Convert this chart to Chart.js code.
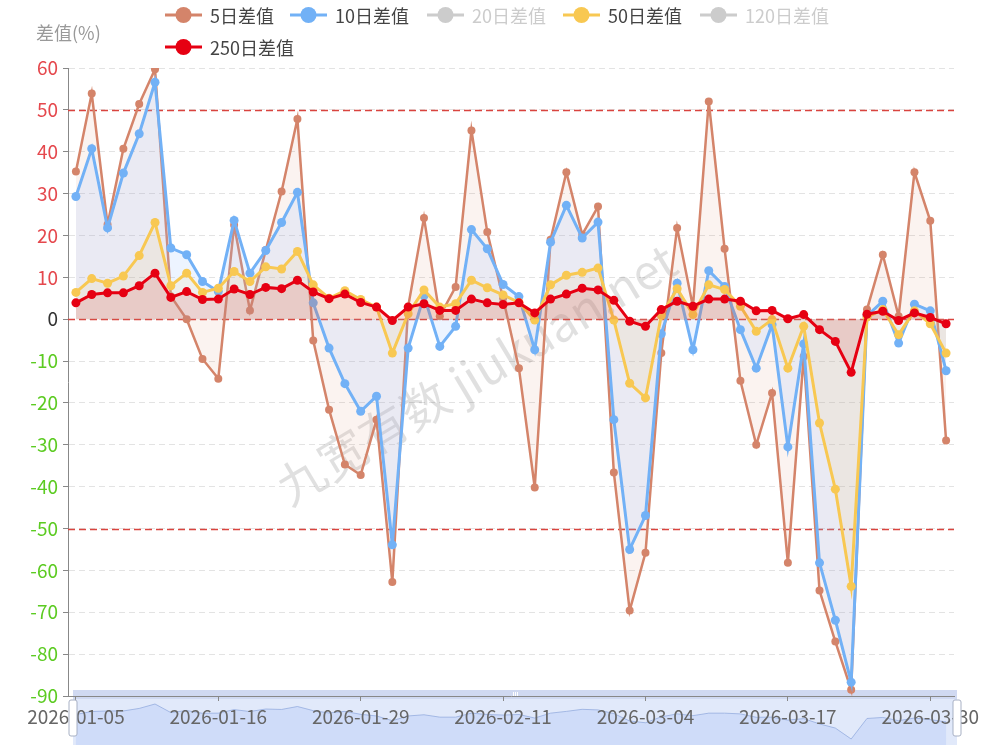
<!DOCTYPE html>
<html>
<head>
<meta charset="utf-8">
<script src="https://cdn.jsdelivr.net/npm/chart.js@4.4.1/dist/chart.umd.min.js"></script>
<style>
html,body{margin:0;padding:0;background:#fff;}
#wrap{width:993px;height:750px;position:relative;}
</style>
</head>
<body>
<div id="wrap"><canvas id="c"></canvas></div>
<script>
// ---------- data ----------
const categories = ['2026-01-05','2026-01-06','2026-01-07','2026-01-08','2026-01-09','2026-01-12','2026-01-13','2026-01-14','2026-01-15','2026-01-16',
 '2026-01-19','2026-01-20','2026-01-21','2026-01-22','2026-01-23','2026-01-26','2026-01-27','2026-01-28','2026-01-29','2026-01-30',
 '2026-02-02','2026-02-03','2026-02-04','2026-02-05','2026-02-06','2026-02-09','2026-02-10','2026-02-11','2026-02-12','2026-02-13',
 '2026-02-24','2026-02-25','2026-02-26','2026-02-27','2026-03-02','2026-03-03','2026-03-04','2026-03-05','2026-03-06','2026-03-09',
 '2026-03-10','2026-03-11','2026-03-12','2026-03-13','2026-03-16','2026-03-17','2026-03-18','2026-03-19','2026-03-20','2026-03-23',
 '2026-03-24','2026-03-25','2026-03-26','2026-03-27','2026-03-30','2026-03-31'];

const diff5 = [35.3, 53.9, 22.6, 40.7, 51.4, 59.7, 5.5, 0, -9.5, -14.2,
 22.5, 2.1, 16.5, 30.5, 47.8, -5.1, -21.6, -34.7, -37.2, -24,
 -62.8, 3, 24.2, 0.7, 7.7, 45.1, 20.8, 5, -11.7, -40.2,
 19, 35.1, 20.2, 26.9, -36.6, -69.6, -55.8, -8.1, 21.8, 3,
 52, 16.8, -14.7, -30, -17.6, -58.2, -8.9, -64.8, -77, -88.5,
 2.3, 15.4, 0.7, 35.1, 23.5, -29];

const diff10 = [29.3, 40.7, 21.8, 34.9, 44.3, 56.6, 17, 15.4, 9, 6.6,
 23.6, 11, 16.4, 23.1, 30.3, 3.9, -6.9, -15.4, -22, -18.4,
 -53.9, -6.9, 5.6, -6.5, -1.7, 21.4, 16.8, 8.3, 5.4, -7.3,
 18.4, 27.2, 19.4, 23.2, -24, -55, -46.9, -3.5, 8.6, -7.3,
 11.6, 7.8, -2.5, -11.7, -1.3, -30.5, -5.9, -58.2, -71.9, -86.7,
 0.8, 4.3, -5.7, 3.6, 2, -12.3];

const diff20 = [];   // hidden in the reference
const diff120 = [];  // hidden in the reference

const diff50 = [6.4, 9.7, 8.6, 10.3, 15.2, 23.1, 8, 11, 6.4, 7.4,
 11.4, 9, 12.5, 12, 16.2, 8.2, 5, 6.8, 4.7, 2.9,
 -8.1, 1.3, 7, 2.9, 3.7, 9.3, 7.5, 5.8, 4, -0.2,
 8.2, 10.5, 11.2, 12.2, -0.2, -15.3, -18.8, 0.9, 7.3, 1.1,
 8.2, 7.1, 3.1, -2.9, -0.1, -11.7, -1.7, -24.8, -40.6, -63.8,
 0.5, 2.3, -3.7, 2, -1.1, -8.1];

const diff250 = [3.9, 5.9, 6.3, 6.3, 8, 11, 5.2, 6.6, 4.7, 4.8,
 7.2, 5.9, 7.6, 7.3, 9.3, 6.5, 4.9, 6, 4, 2.9,
 -0.3, 2.9, 3.7, 2.1, 2.1, 4.8, 3.9, 3.5, 3.9, 1.5,
 4.8, 6, 7.4, 7, 4.5, -0.5, -1.7, 2.3, 4.3, 3.1,
 4.8, 4.8, 4.3, 2, 2.1, 0.1, 1.1, -2.5, -5.3, -12.7,
 1.2, 1.9, -0.3, 1.5, 0.4, -1.1];

const seriesNames = ['5日差值','10日差值','20日差值','50日差值','120日差值','250日差值'];
const hiddenSeries = ['20日差值','120日差值'];
const markLineValues = [50, 0, -50];
const yAxisTitle = '差值(%)';
const watermarkText = '九宽有数 jiukuan.net';
const yMin = -90, yMax = 60, yStep = 10;
const labelEvery = 9;

// ---------- styles ----------
const FONT = '"Noto Sans CJK SC", "Noto Sans", sans-serif';
const colors = {
  '5日差值':   {line:'#d4846a', fill:'rgba(215,140,110,0.1)'},
  '10日差值':  {line:'#72b1f6', fill:'rgba(150,190,255,0.17)'},
  '20日差值':  {line:'#cccccc', fill:'rgba(0,0,0,0)'},
  '50日差值':  {line:'#f8c852', fill:'rgba(248,200,82,0.1)'},
  '120日差值': {line:'#cccccc', fill:'rgba(0,0,0,0)'},
  '250日差值': {line:'#e60012', fill:'rgba(215,50,45,0.15)'}
};
const seriesData = [diff5, diff10, diff20, diff50, diff120, diff250];
const orders = [4, 3, 5, 2, 6, 1];
const lineWidths = [2.5, 3, 2, 3, 2, 3];
const pointRadii = [4, 4.5, 4, 4.5, 4, 4.5];

const datasets = seriesNames.map((name, k) => ({
  label: name,
  data: seriesData[k],
  borderColor: colors[name].line,
  backgroundColor: colors[name].fill,
  pointBackgroundColor: colors[name].line,
  pointBorderColor: colors[name].line,
  pointBorderWidth: 0,
  pointRadius: pointRadii[k],
  borderWidth: lineWidths[k],
  fill: 'origin',
  tension: 0,
  hidden: hiddenSeries.includes(name),
  order: orders[k]
}));

// ---------- plugins ----------
const sliderPlugin = {
  id: 'slider',
  beforeDraw(chart) {
    const ctx = chart.ctx, ca = chart.chartArea;
    const x0 = ca.left + 5, x1 = ca.right + 3, y0 = 690, y1 = 745;
    ctx.save();
    ctx.fillStyle = 'rgba(205,218,247,0.6)';
    ctx.fillRect(x0, y0, x1 - x0, y1 - y0);
    // preview of 250日 series
    const xs = chart.scales.x;
    const vmin = Math.min(...diff250), vmax = Math.max(...diff250);
    const py = v => y0 + 14 + (vmax - v) / (vmax - vmin) * (y1 - y0 - 20);
    ctx.beginPath();
    diff250.forEach((v, i) => {
      const x = xs.getPixelForValue(i);
      if (i === 0) ctx.moveTo(x, py(v)); else ctx.lineTo(x, py(v));
    });
    ctx.lineTo(xs.getPixelForValue(diff250.length - 1), y1);
    ctx.lineTo(xs.getPixelForValue(0), y1);
    ctx.closePath();
    ctx.fillStyle = 'rgba(190,208,248,0.5)';
    ctx.fill();
    ctx.beginPath();
    diff250.forEach((v, i) => {
      const x = xs.getPixelForValue(i);
      if (i === 0) ctx.moveTo(x, py(v)); else ctx.lineTo(x, py(v));
    });
    ctx.strokeStyle = 'rgba(140,165,220,0.7)';
    ctx.lineWidth = 1;
    ctx.stroke();
    // top move bar
    ctx.fillStyle = 'rgba(208,216,240,0.95)';
    ctx.fillRect(x0, y0, x1 - x0, 9);
    const cx = (x0 + x1) / 2;
    ctx.strokeStyle = '#ffffff';
    ctx.lineWidth = 1;
    for (let k = -2; k <= 2; k += 2) {
      ctx.beginPath(); ctx.moveTo(cx + k + 0.5, y0 + 2); ctx.lineTo(cx + k + 0.5, y0 + 7); ctx.stroke();
    }
    ctx.restore();
  },
  afterDraw(chart) {
    const ctx = chart.ctx, ca = chart.chartArea;
    const x0 = ca.left + 5, x1 = ca.right + 3;
    ctx.save();
    [x0, x1].forEach(x => {
      ctx.beginPath();
      ctx.roundRect(x - 4, 700, 8, 36, 2);
      ctx.fillStyle = '#ffffff';
      ctx.fill();
      ctx.strokeStyle = '#a7b0c4';
      ctx.lineWidth = 1;
      ctx.stroke();
    });
    ctx.restore();
  }
};

const overlayPlugin = {
  id: 'overlay',
  beforeDatasetsDraw(chart) {
    const ctx = chart.ctx, ca = chart.chartArea, ys = chart.scales.y;
    ctx.save();
    // watermark
    ctx.translate(290, 507);
    ctx.rotate(-31 * Math.PI / 180);
    ctx.font = '48px ' + FONT;
    ctx.fillStyle = 'rgba(0,0,0,0.12)';
    ctx.textBaseline = 'alphabetic';
    ctx.fillText(watermarkText, 0, 0);
    ctx.restore();
    // mark lines
    ctx.save();
    ctx.strokeStyle = '#d9443f';
    ctx.lineWidth = 1.6;
    ctx.setLineDash([7, 4]);
    markLineValues.forEach(v => {
      const y = Math.round(ys.getPixelForValue(v)) + 0.5;
      ctx.beginPath(); ctx.moveTo(ca.left, y); ctx.lineTo(ca.right, y); ctx.stroke();
    });
    ctx.restore();
  },
  afterDraw(chart) {
    const ctx = chart.ctx;
    ctx.save();
    // y axis title
    ctx.font = '18px ' + FONT;
    ctx.fillStyle = '#999999';
    ctx.textBaseline = 'middle';
    ctx.textAlign = 'left';
    ctx.fillText(yAxisTitle, 36, 33);
    // legend
    const pos = [[165,15],[290,15],[427,15],[563,15],[700,15],[165,47]];
    seriesNames.forEach((name, k) => {
      const [x, y] = pos[k];
      const hidden = hiddenSeries.includes(name);
      const c = hidden ? '#cccccc' : colors[name].line;
      ctx.strokeStyle = c; ctx.lineWidth = 3;
      ctx.beginPath(); ctx.moveTo(x, y); ctx.lineTo(x + 37, y); ctx.stroke();
      ctx.fillStyle = c;
      ctx.beginPath(); ctx.arc(x + 18.5, y, 8, 0, Math.PI * 2); ctx.fill();
      ctx.fillStyle = hidden ? '#cccccc' : '#444444';
      ctx.fillText(name, x + 45, y + 1);
    });
    ctx.restore();
  }
};

Chart.defaults.font.family = FONT;

new Chart(document.getElementById('c'), {
  type: 'line',
  data: { labels: categories, datasets },
  plugins: [sliderPlugin, overlayPlugin],
  options: {
    responsive: true,
    maintainAspectRatio: false,
    animation: false,
    layout: { padding: { left: 0, top: 68, right: 39, bottom: 0 } },
    plugins: { legend: { display: false }, tooltip: { enabled: false } },
    scales: {
      x: {
        type: 'category',
        offset: true,
        afterBuildTicks: s => { s.ticks = s.ticks.filter((t, i) => i % labelEvery === 0); },
        afterFit: s => { s.height = 54; },
        grid: { drawOnChartArea: false, drawTicks: true, tickLength: 5, tickColor: '#888888' },
        border: { display: true, color: '#888888', width: 1 },
        ticks: { autoSkip: false, maxRotation: 0, minRotation: 0, padding: 4, color: '#666666', font: { size: 19 } }
      },
      y: {
        min: yMin, max: yMax,
        afterFit: s => { s.width = 68; },
        grid: { color: '#e3e3e3', lineWidth: 1, drawTicks: true, tickLength: 5, tickColor: '#888888' },
        border: { display: true, color: '#888888', width: 1, dash: [6, 4] },
        ticks: {
          stepSize: yStep, padding: 5, font: { size: 19 },
          color: c => c.tick.value > 0 ? '#e5484d' : (c.tick.value < 0 ? '#5ccb22' : '#333333')
        }
      }
    }
  }
});
</script>
</body>
</html>
